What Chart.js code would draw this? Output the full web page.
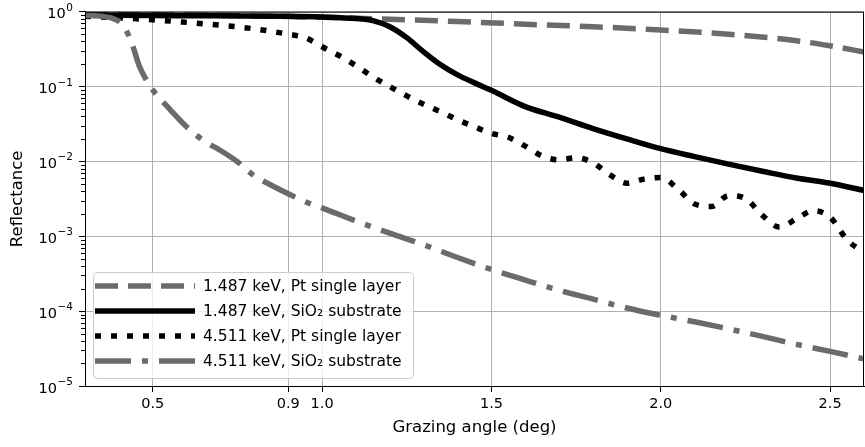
<!DOCTYPE html>
<html>
<head>
<meta charset="utf-8">
<script src="https://cdn.jsdelivr.net/npm/chart.js@4.4.1/dist/chart.umd.min.js"></script>
<style>
  html, body { margin: 0; padding: 0; background: #fff; }
  #wrap { width: 865px; height: 447px; }
</style>
</head>
<body>
<div id="wrap"><canvas id="myChart"></canvas></div>
<script>
// reflectance curves vs grazing angle (deg)
var ptLowAngles = [0.3, 0.5, 0.7, 0.9, 1.0, 1.2, 1.4, 1.6, 1.8, 2.0, 2.2, 2.4, 2.5, 2.6];
var ptLowValues = [0.93, 0.91, 0.89, 0.86, 0.84, 0.79, 0.74, 0.68, 0.63, 0.57, 0.50, 0.41, 0.35, 0.29];

var sioLowAngles = [0.3, 0.5, 0.7, 0.9, 1.0, 1.1, 1.15, 1.2, 1.25, 1.3, 1.35, 1.4, 1.45, 1.5, 1.6, 1.7, 1.8, 1.9, 2.0, 2.1, 2.2, 2.3, 2.4, 2.5, 2.6];
var sioLowValues = [0.9, 0.89, 0.88, 0.87, 0.85, 0.81, 0.76, 0.63, 0.45, 0.29, 0.195, 0.143, 0.112, 0.089, 0.054, 0.039, 0.0275, 0.020, 0.0148, 0.0116, 0.0092, 0.0074, 0.006, 0.0051, 0.0041];

var ptHighAngles = [0.3, 0.4, 0.5, 0.6, 0.7, 0.8, 0.9, 0.95, 1.0, 1.05, 1.1, 1.15, 1.2, 1.25, 1.3, 1.35, 1.4, 1.45, 1.5, 1.55, 1.6, 1.65, 1.7, 1.75, 1.8, 1.85, 1.9, 1.95, 2.0, 2.05, 2.1, 2.15, 2.2, 2.25, 2.3, 2.35, 2.4, 2.45, 2.5, 2.55, 2.6];
var ptHighValues = [0.87, 0.83, 0.78, 0.72, 0.66, 0.59, 0.50, 0.45, 0.34, 0.26, 0.19, 0.135, 0.10, 0.075, 0.058, 0.046, 0.036, 0.029, 0.0237, 0.021, 0.016, 0.0118, 0.0105, 0.0112, 0.0096, 0.0066, 0.0051, 0.0058, 0.0061, 0.0043, 0.0027, 0.0025, 0.0035, 0.0032, 0.0019, 0.00133, 0.0017, 0.0022, 0.0018, 0.0009, 0.0006];

var sioHighAngles = [0.3, 0.35, 0.38, 0.4, 0.42, 0.44, 0.46, 0.48, 0.5, 0.55, 0.6, 0.65, 0.7, 0.75, 0.8, 0.85, 0.9, 0.95, 1.0, 1.1, 1.2, 1.3, 1.4, 1.5, 1.6, 1.7, 1.8, 1.9, 2.0, 2.1, 2.2, 2.3, 2.4, 2.5, 2.6];
var sioHighValues = [0.9, 0.87, 0.82, 0.74, 0.58, 0.36, 0.19, 0.125, 0.09, 0.05, 0.029, 0.019, 0.014, 0.0099, 0.0064, 0.0048, 0.0037, 0.0029, 0.0024, 0.0016, 0.0011, 0.00077, 0.00052, 0.00036, 0.00026, 0.00019, 0.000145, 0.00011, 0.000088, 0.000072, 0.000058, 0.000046, 0.000036, 0.000029, 0.000023];

var seriesLabels = ['1.487 keV, Pt single layer', '1.487 keV, SiO\u2082 substrate', '4.511 keV, Pt single layer', '4.511 keV, SiO\u2082 substrate'];
var xTicks = [0.5, 0.9, 1.0, 1.5, 2.0, 2.5];
var yTicks = [1e-5, 1e-4, 1e-3, 1e-2, 1e-1, 1];

function pts(xs, ys) {
	return xs.map(function (x, i) { return { x: x, y: ys[i] }; });
}

var gray = '#6b6b6b';
var lw = 5.5;
var fontFam = '"DejaVu Sans", sans-serif';

Chart.defaults.font.family = fontFam;
Chart.defaults.font.size = 14.5;
Chart.defaults.color = '#000';

// frame, minor y ticks, power-of-ten labels and the legend box
var extras = {
	id: 'extras',
	afterDatasetsDraw: function (chart) {
		var ctx = chart.ctx, a = chart.chartArea, ys = chart.scales.y;
		ctx.save();
		ctx.strokeStyle = '#000';
		ctx.lineWidth = 1;
		ctx.strokeRect(a.left + 0.5, a.top + 0.5, a.right - a.left - 1, a.bottom - a.top);
		ctx.beginPath();
		for (var d = -5; d < 0; d++) {
			for (var k = 2; k < 10; k++) {
				var py = Math.round(ys.getPixelForValue(k * Math.pow(10, d))) + 0.5;
				ctx.moveTo(a.left - 4, py);
				ctx.lineTo(a.left, py);
			}
		}
		ctx.stroke();

		// y tick labels as 10 with a raised exponent
		ctx.fillStyle = '#000';
		ctx.textAlign = 'right';
		ctx.textBaseline = 'alphabetic';
		yTicks.forEach(function (v) {
			var ty = ys.getPixelForValue(v);
			var e = Math.round(Math.log10(v));
			var es = e < 0 ? '\u2212' + (-e) : String(e);
			var xr = a.left - 12;
			ctx.font = '10.5px ' + fontFam;
			ctx.fillText(es, xr, ty - 1);
			var ew = ctx.measureText(es).width;
			ctx.font = '14.5px ' + fontFam;
			ctx.fillText('10', xr - ew - 0.5, ty + 6.5);
		});

		// legend
		var bx = a.left + 8, by = a.bottom - 114, bw = 320, bh = 106;
		ctx.beginPath();
		ctx.roundRect(bx + 0.5, by + 0.5, bw, bh, 4);
		ctx.fillStyle = 'rgba(255,255,255,0.8)';
		ctx.fill();
		ctx.strokeStyle = '#cccccc';
		ctx.stroke();
		chart.data.datasets.forEach(function (ds, i) {
			var cy = by + 14 + i * 25;
			ctx.beginPath();
			ctx.setLineDash(ds.borderDash || []);
			ctx.lineDashOffset = 0;
			ctx.strokeStyle = ds.borderColor;
			ctx.lineWidth = ds.borderWidth;
			ctx.lineCap = 'butt';
			ctx.moveTo(bx + 2, cy);
			ctx.lineTo(bx + 102, cy);
			ctx.stroke();
			ctx.setLineDash([]);
			ctx.fillStyle = '#000';
			ctx.font = '15.5px ' + fontFam;
			ctx.textBaseline = 'middle';
			ctx.textAlign = 'left';
			ctx.fillText(ds.label, bx + 110, cy + 1);
		});
		ctx.restore();
	}
};

var ctx = document.getElementById('myChart').getContext('2d');

var reflChart = new Chart(ctx, {
	type: 'line',
	data: {
		datasets: [{
			label: seriesLabels[0],
			data: pts(ptLowAngles, ptLowValues),
			borderColor: gray,
			borderWidth: lw,
			borderDash: [23, 10],
			order: 4
		}, {
			label: seriesLabels[1],
			data: pts(sioLowAngles, sioLowValues),
			borderColor: '#000',
			borderWidth: lw,
			order: 3
		}, {
			label: seriesLabels[2],
			data: pts(ptHighAngles, ptHighValues),
			borderColor: '#000',
			borderWidth: lw,
			borderDash: [6, 10],
			order: 2
		}, {
			label: seriesLabels[3],
			data: pts(sioHighAngles, sioHighValues),
			borderColor: gray,
			borderWidth: lw,
			borderDash: [36, 11, 6, 11],
			order: 1
		}]
	},
	options: {
		responsive: true,
		maintainAspectRatio: false,
		animation: false,
		layout: { padding: { top: 9, right: 1, left: 0, bottom: 0 } },
		elements: {
			point: { radius: 0 },
			line: { cubicInterpolationMode: 'monotone', fill: false }
		},
		plugins: { legend: { display: false }, tooltip: { enabled: false } },
		scales: {
			x: {
				type: 'linear',
				min: 0.3,
				max: 2.6,
				afterBuildTicks: function (s) { s.ticks = xTicks.map(function (v) { return { value: v }; }); },
				afterFit: function (s) { s.height = 61; },
				ticks: {
					autoSkip: false,
					maxRotation: 0,
					padding: 4,
					callback: function (v) { return v.toFixed(1); }
				},
				grid: { color: '#b0b0b0', tickColor: '#000', tickLength: 6 },
				border: { color: '#000' },
				title: { display: true, text: 'Grazing angle (deg)', font: { size: 16.5 }, padding: { top: 4, bottom: 9 } }
			},
			y: {
				type: 'logarithmic',
				min: 1e-5,
				max: 1,
				afterBuildTicks: function (s) { s.ticks = yTicks.map(function (v) { return { value: v }; }); },
				afterFit: function (s) { s.width = 85; },
				ticks: {
					autoSkip: false,
					callback: function () { return ''; }
				},
				grid: { color: '#b0b0b0', tickColor: '#000', tickLength: 6 },
				border: { color: '#000' },
				title: { display: true, text: 'Reflectance', font: { size: 16.5 }, padding: { top: 8, bottom: 4 } }
			}
		}
	},
	plugins: [extras]
});
</script>
</body>
</html>
